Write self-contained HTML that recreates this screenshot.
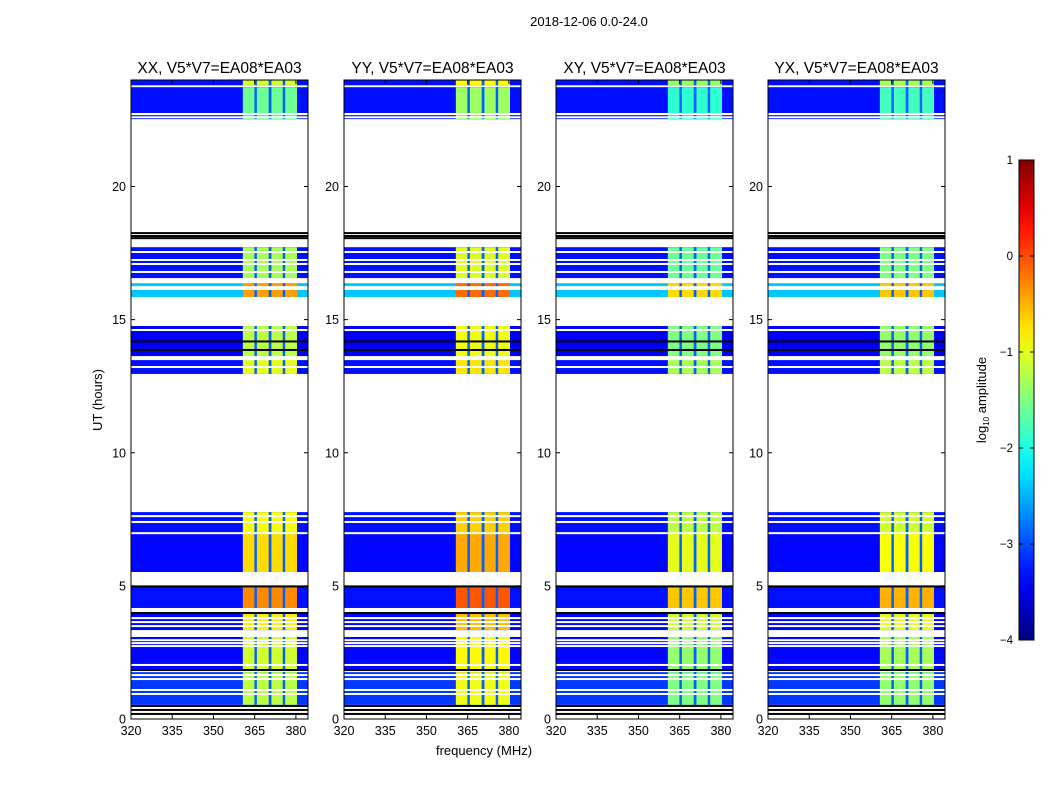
<!DOCTYPE html>
<html><head><meta charset="utf-8"><style>
body{margin:0;background:#fff;}
svg{display:block;font-family:"Liberation Sans","DejaVu Sans",sans-serif;}
</style></head><body>
<svg id="fig" width="1050" height="800" xmlns="http://www.w3.org/2000/svg">
<text x="589" y="26" font-size="13" text-anchor="middle">2018-12-06 0.0-24.0</text>
<text transform="translate(102,400) rotate(-90)" font-size="13" text-anchor="middle">UT (hours)</text>
<text x="484" y="755" font-size="13" text-anchor="middle">frequency (MHz)</text>
<text transform="translate(986,400) rotate(-90)" font-size="13" text-anchor="middle">log<tspan font-size="8" dy="3">10</tspan><tspan dy="-3"> amplitude</tspan></text>
</svg>
<script>
// ---- data ----
const panelTitles = ["XX, V5*V7=EA08*EA03","YY, V5*V7=EA08*EA03","XY, V5*V7=EA08*EA03","YX, V5*V7=EA08*EA03"];
const panelBandOffset = [0, 0.25, -0.3, -0.2];
const segStart = [23.8, 22.76, 22.53, 16.37, 15.85, 13.6, 12.96, 7.0, 5.52, 4.47, 4.17, 3.34, 1.84, 0.53];
const segEnd   = [24.0, 23.73, 22.68, 17.72, 16.37, 14.76, 13.6, 7.77, 7.0, 4.98, 4.47, 3.98, 3.08, 1.76];
const segBg    = [-3.3, -3.3, -3.3, -3.3, -2.4, -3.4, -3.3, -3.3, -3.35, -3.3, -3.3, -3.35, -3.35, -3.1];
const segBand  = [-1.1, -1.6, -1.6, -1.3, -0.4, -1.2, -1.0, -0.9, -0.7, -0.3, -0.3, -0.8, -1.1, -1.2];
const whiteLines = [22.6, 17.54, 17.24, 17.09, 16.79, 16.22, 16.15, 14.61, 13.22, 7.62, 7.40, 6.98, 3.79, 3.64, 3.49, 2.96, 2.85, 2.74, 2.03, 1.65, 1.50, 1.09, 0.94];
const whiteBands = [[16.37,16.56],[13.48,13.63],[5.52,5.14]];
const blackLines = [18.25, 18.14, 18.06, 14.18, 13.86, 4.98, 3.98, 1.84, 0.49, 0.34, 0.19];
const subStart = [360.7, 365.8, 371.1, 376.1];
const subEnd   = [364.9, 370.1, 375.2, 380.4];
const gapValue = -2.9;
const xTicks = [320, 335, 350, 365, 380];
const yTicks = [0, 5, 10, 15, 20];
const cbTicks = [1, 0, -1, -2, -3, -4];

// ---- geometry ----
const panelLeft = [131, 344, 556, 768];
const pw = 177, plotTop = 80, plotBottom = 719;
const fMin = 320, fMax = 384.4;
const NS = "http://www.w3.org/2000/svg";
const svg = document.getElementById('fig');
function yScale(h){ return plotBottom - (h/24)*(plotBottom-plotTop); }
function jet(v){
  let t = (v+4)/5; t = Math.max(0, Math.min(1, t));
  const c = x => Math.round(255*Math.max(0, Math.min(1, 1.5 - Math.abs(x))));
  return `rgb(${c(4*t-3)},${c(4*t-2)},${c(4*t-1)})`;
}
function mk(tag, attrs, parent){
  const e = document.createElementNS(NS, tag);
  for (const k in attrs) e.setAttribute(k, attrs[k]);
  (parent||svg).appendChild(e);
  return e;
}

panelLeft.forEach((L, p) => {
  const xS = f => L + (f - fMin)/(fMax - fMin)*pw;
  const g = mk('g', {});
  
  
  const off = panelBandOffset[p];
  for (let i = 0; i < segStart.length; i++){
    const y1 = yScale(segEnd[i]), y2 = yScale(segStart[i]);
    const bg = mk('rect', {x:L, y:y1, width:pw, height:y2-y1, fill:jet(segBg[i])}, g);
    
    
    const gp = mk('rect', {x:xS(subStart[0]), y:y1, width:xS(subEnd[3])-xS(subStart[0]), height:y2-y1, fill:jet(gapValue)}, g);
    
    
    for (let s = 0; s < subStart.length; s++){
      const r = mk('rect', {x:xS(subStart[s]), y:y1, width:xS(subEnd[s])-xS(subStart[s]), height:y2-y1, fill:jet(segBand[i]+off)}, g);
      
      
    }
  }
  whiteBands.forEach(b => {
    const y1 = yScale(Math.max(b[0],b[1])), y2 = yScale(Math.min(b[0],b[1]));
    const r = mk('rect', {x:L, y:y1, width:pw, height:y2-y1, fill:'#fff'}, g);
    
    
  });
  whiteLines.forEach(h => {
    const r = mk('rect', {x:L, y:yScale(h)-1, width:pw, height:2, fill:'#fff'}, g);
    
    
  });
  blackLines.forEach(h => {
    const r = mk('rect', {x:L, y:yScale(h)-1, width:pw, height:2, fill:'#000'}, g);
    
    
  });
  const frame = mk('rect', {x:L, y:plotTop, width:pw, height:plotBottom-plotTop, fill:'none', stroke:'#000', 'stroke-width':1});
  
  
  const t = mk('text', {x:L+pw/2, y:73, 'font-size':15.5, 'text-anchor':'middle'});
  t.textContent = panelTitles[p];
  
  
  xTicks.forEach(v => {
    const x = xS(v);
    mk('line', {x1:x, x2:x, y1:plotBottom, y2:plotBottom-4, stroke:'#000'});
    mk('line', {x1:x, x2:x, y1:plotTop, y2:plotTop+4, stroke:'#000'});
    const tx = mk('text', {x:x, y:plotBottom+16, 'font-size':12.5, 'text-anchor':'middle'});
    tx.textContent = v;
    
    
  });
  yTicks.forEach(v => {
    const y = yScale(v);
    mk('line', {x1:L, x2:L+4, y1:y, y2:y, stroke:'#000'});
    mk('line', {x1:L+pw, x2:L+pw-4, y1:y, y2:y, stroke:'#000'});
    const ty = mk('text', {x:L-5, y:y+4.5, 'font-size':12.5, 'text-anchor':'end'});
    ty.textContent = v;
    
    
  });
});

// colorbar
const cbX = 1019, cbW = 15, cbTop = 160, cbBot = 640;
const defs = mk('defs', {});
const grad = mk('linearGradient', {id:'jetg', x1:0, y1:1, x2:0, y2:0}, defs);
for (let i = 0; i <= 20; i++){
  mk('stop', {offset: i/20, 'stop-color': jet(-4 + 5*i/20)}, grad);
}
const cb = mk('rect', {x:cbX, y:cbTop, width:cbW, height:cbBot-cbTop, fill:'url(#jetg)', stroke:'#000'});


cbTicks.forEach(v => {
  const y = cbBot - (v+4)/5*(cbBot-cbTop);
  mk('line', {x1:cbX, x2:cbX+4, y1:y, y2:y, stroke:'#000'});
  mk('line', {x1:cbX+cbW, x2:cbX+cbW-4, y1:y, y2:y, stroke:'#000'});
  const t = mk('text', {x:1013, y:y+4, 'font-size':11.5, 'text-anchor':'end'});
  t.textContent = v < 0 ? '\u2212' + (-v) : v;
  
  
});
</script>
</body></html>
